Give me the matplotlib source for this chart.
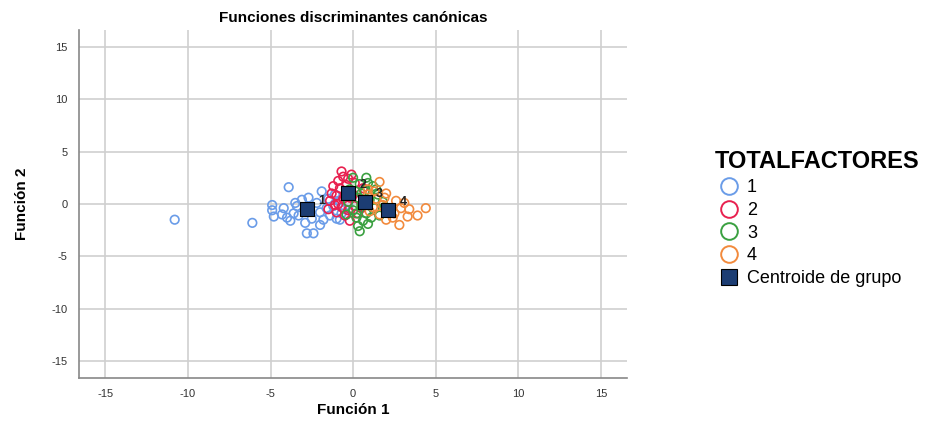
import matplotlib
matplotlib.use('Agg')
import matplotlib.pyplot as plt
from matplotlib.lines import Line2D

plt.rcParams['font.family'] = ['Liberation Sans', 'DejaVu Sans']
plt.rcParams['axes.unicode_minus'] = False

# puntuaciones discriminantes por grupo (Función 1, Función 2)
g1_x = [-10.8, -6.1, -3.9, -4.9, -4.9, -4.8, -4.2, -4.0, -3.8, -3.6, -3.4, -3.3, -3.1, -2.9, -2.8, -2.4,
        -2.5, -2.2, -2.0, -1.9, -1.8, -1.6, -1.5, -1.4, -1.2, -1.0, -0.9, -0.7, -0.5, -0.3, -1.1, -2.7,
        -3.5, -2.0, -4.3, -0.8]
g1_y = [-1.5, -1.8, 1.6, -0.1, -0.6, -1.2, -0.4, -1.3, -1.6, -0.9, -0.2, -1.1, 0.4, -1.8, -2.8, -2.8,
        -1.4, 0.1, -0.8, 1.2, -1.5, -0.4, 0.5, -1.1, -0.2, -1.4, 0.3, -0.9, -0.5, -0.1, 0.9, 0.6,
        0.1, -2.0, -1.0, -1.5]
g2_x = [-0.7, -0.6, -0.9, -0.3, -1.2, -0.8, -0.4, 0.1, -1.3, -1.0, -0.6, -0.2, 0.2, 0.4, -1.4, -1.1,
        -0.7, -0.3, 0.1, -1.0, -0.5, -0.2, 0.3, -1.5, 0.6, -0.9, 0.0, -0.4, 0.5, -0.1]
g2_y = [3.1, 2.6, 2.2, 2.4, 1.7, 1.5, 1.8, 2.0, 1.0, 0.8, 0.5, 0.6, 1.2, 0.4, 0.3, -0.1,
        -0.3, -0.6, -0.2, -0.8, -1.1, -1.6, -0.9, -0.5, 1.5, 0.0, 0.9, 1.2, -0.4, 2.8]
g3_x = [0.0, 0.8, 0.4, 1.2, -0.2, 0.7, 1.5, 0.3, 1.0, 1.8, 0.5, 1.3, 0.0, 0.8, 1.6, 0.2,
        0.6, 1.1, 0.3, 0.4, -0.4, 1.9, 0.9, -0.3, 0.5, 1.4, 0.2, 0.9]
g3_y = [2.5, 2.5, 1.9, 1.7, 1.4, 1.2, 0.9, 0.6, 0.4, 0.2, -0.1, -0.4, -0.6, -0.9, -1.1, -1.3,
        -1.6, -1.3, -2.1, -2.6, -1.0, -0.3, 2.0, 0.2, 1.0, 1.4, -0.9, -1.9]
g4_x = [1.6, 0.9, 2.0, 1.4, 2.6, 1.8, 2.2, 2.9, 3.4, 4.4, 3.9, 2.8, 1.6, 2.4, 1.2, 3.1,
        0.9, 2.0, 1.3, 2.5, 1.9, 3.3, 1.0]
g4_y = [2.1, 1.4, 1.0, 0.5, 0.3, -0.1, -0.6, -0.4, -0.5, -0.4, -1.1, -2.0, -1.0, -1.3, -0.3, 0.1,
        0.9, -1.5, 1.2, -0.9, 0.6, -1.2, -0.7]

groups = ['1', '2', '3', '4']
colors = ['#6a9ce8', '#e8204f', '#3aa040', '#f28a3c']

cent_x = [-2.8, -0.3, 0.7, 2.1]
cent_y = [-0.5, 1.05, 0.2, -0.6]

ticks = [-15, -10, -5, 0, 5, 10, 15]

fig = plt.figure(figsize=(9.28, 4.21), dpi=100)
ax = fig.add_axes([0.085, 0.102, 0.591, 0.827])

xs = [g1_x, g2_x, g3_x, g4_x]
ys = [g1_y, g2_y, g3_y, g4_y]
for gx, gy, c in zip(xs, ys, colors):
    ax.scatter(gx, gy, s=38, facecolors='none', edgecolors=c, linewidths=1.2, zorder=3)

ax.scatter(cent_x, cent_y, marker='s', s=110, c='#1c3d73', edgecolors='black', linewidths=0.8, zorder=5)
for cx, cy, g in zip(cent_x, cent_y, groups):
    ax.text(cx + 0.7, cy + 0.5, g, fontsize=9, fontweight='bold', color='#222222', zorder=6)

ax.set_xlim(-16.6, 16.6)
ax.set_ylim(-16.6, 16.6)
ax.set_xticks(ticks)
ax.set_yticks(ticks)
ax.tick_params(length=0, labelsize=8, colors='#333333', pad=8)
ax.grid(True, color='#cfcfcf', linewidth=1.2)
ax.set_axisbelow(True)
for s in ['top', 'right']:
    ax.spines[s].set_visible(False)
for s in ['left', 'bottom']:
    ax.spines[s].set_color('#888888')
    ax.spines[s].set_linewidth(1.2)

ax.set_title('Funciones discriminantes canónicas', fontsize=11, fontweight='bold', pad=6)
ax.set_xlabel('Función 1', fontsize=11, fontweight='bold', labelpad=3)
ax.set_ylabel('Función 2', fontsize=11, fontweight='bold', labelpad=16)

handles = [Line2D([], [], linestyle='none', marker='o', markersize=12, markerfacecolor='none',
                  markeredgecolor=c, markeredgewidth=1.4) for c in colors]
handles.append(Line2D([], [], linestyle='none', marker='s', markersize=11, markerfacecolor='#1c3d73',
                      markeredgecolor='black', markeredgewidth=0.8))
leg = fig.legend(handles, groups + ['Centroide de grupo'], loc='upper left',
                 bbox_to_anchor=(0.762, 0.66), frameon=False, fontsize=13,
                 title='TOTALFACTORES', title_fontproperties={'size': 17, 'weight': 'bold'},
                 handletextpad=0.2, labelspacing=0.32, handlelength=1.6, borderaxespad=0)
leg._legend_box.align = 'left'

fig.savefig('out.png', dpi=100)
